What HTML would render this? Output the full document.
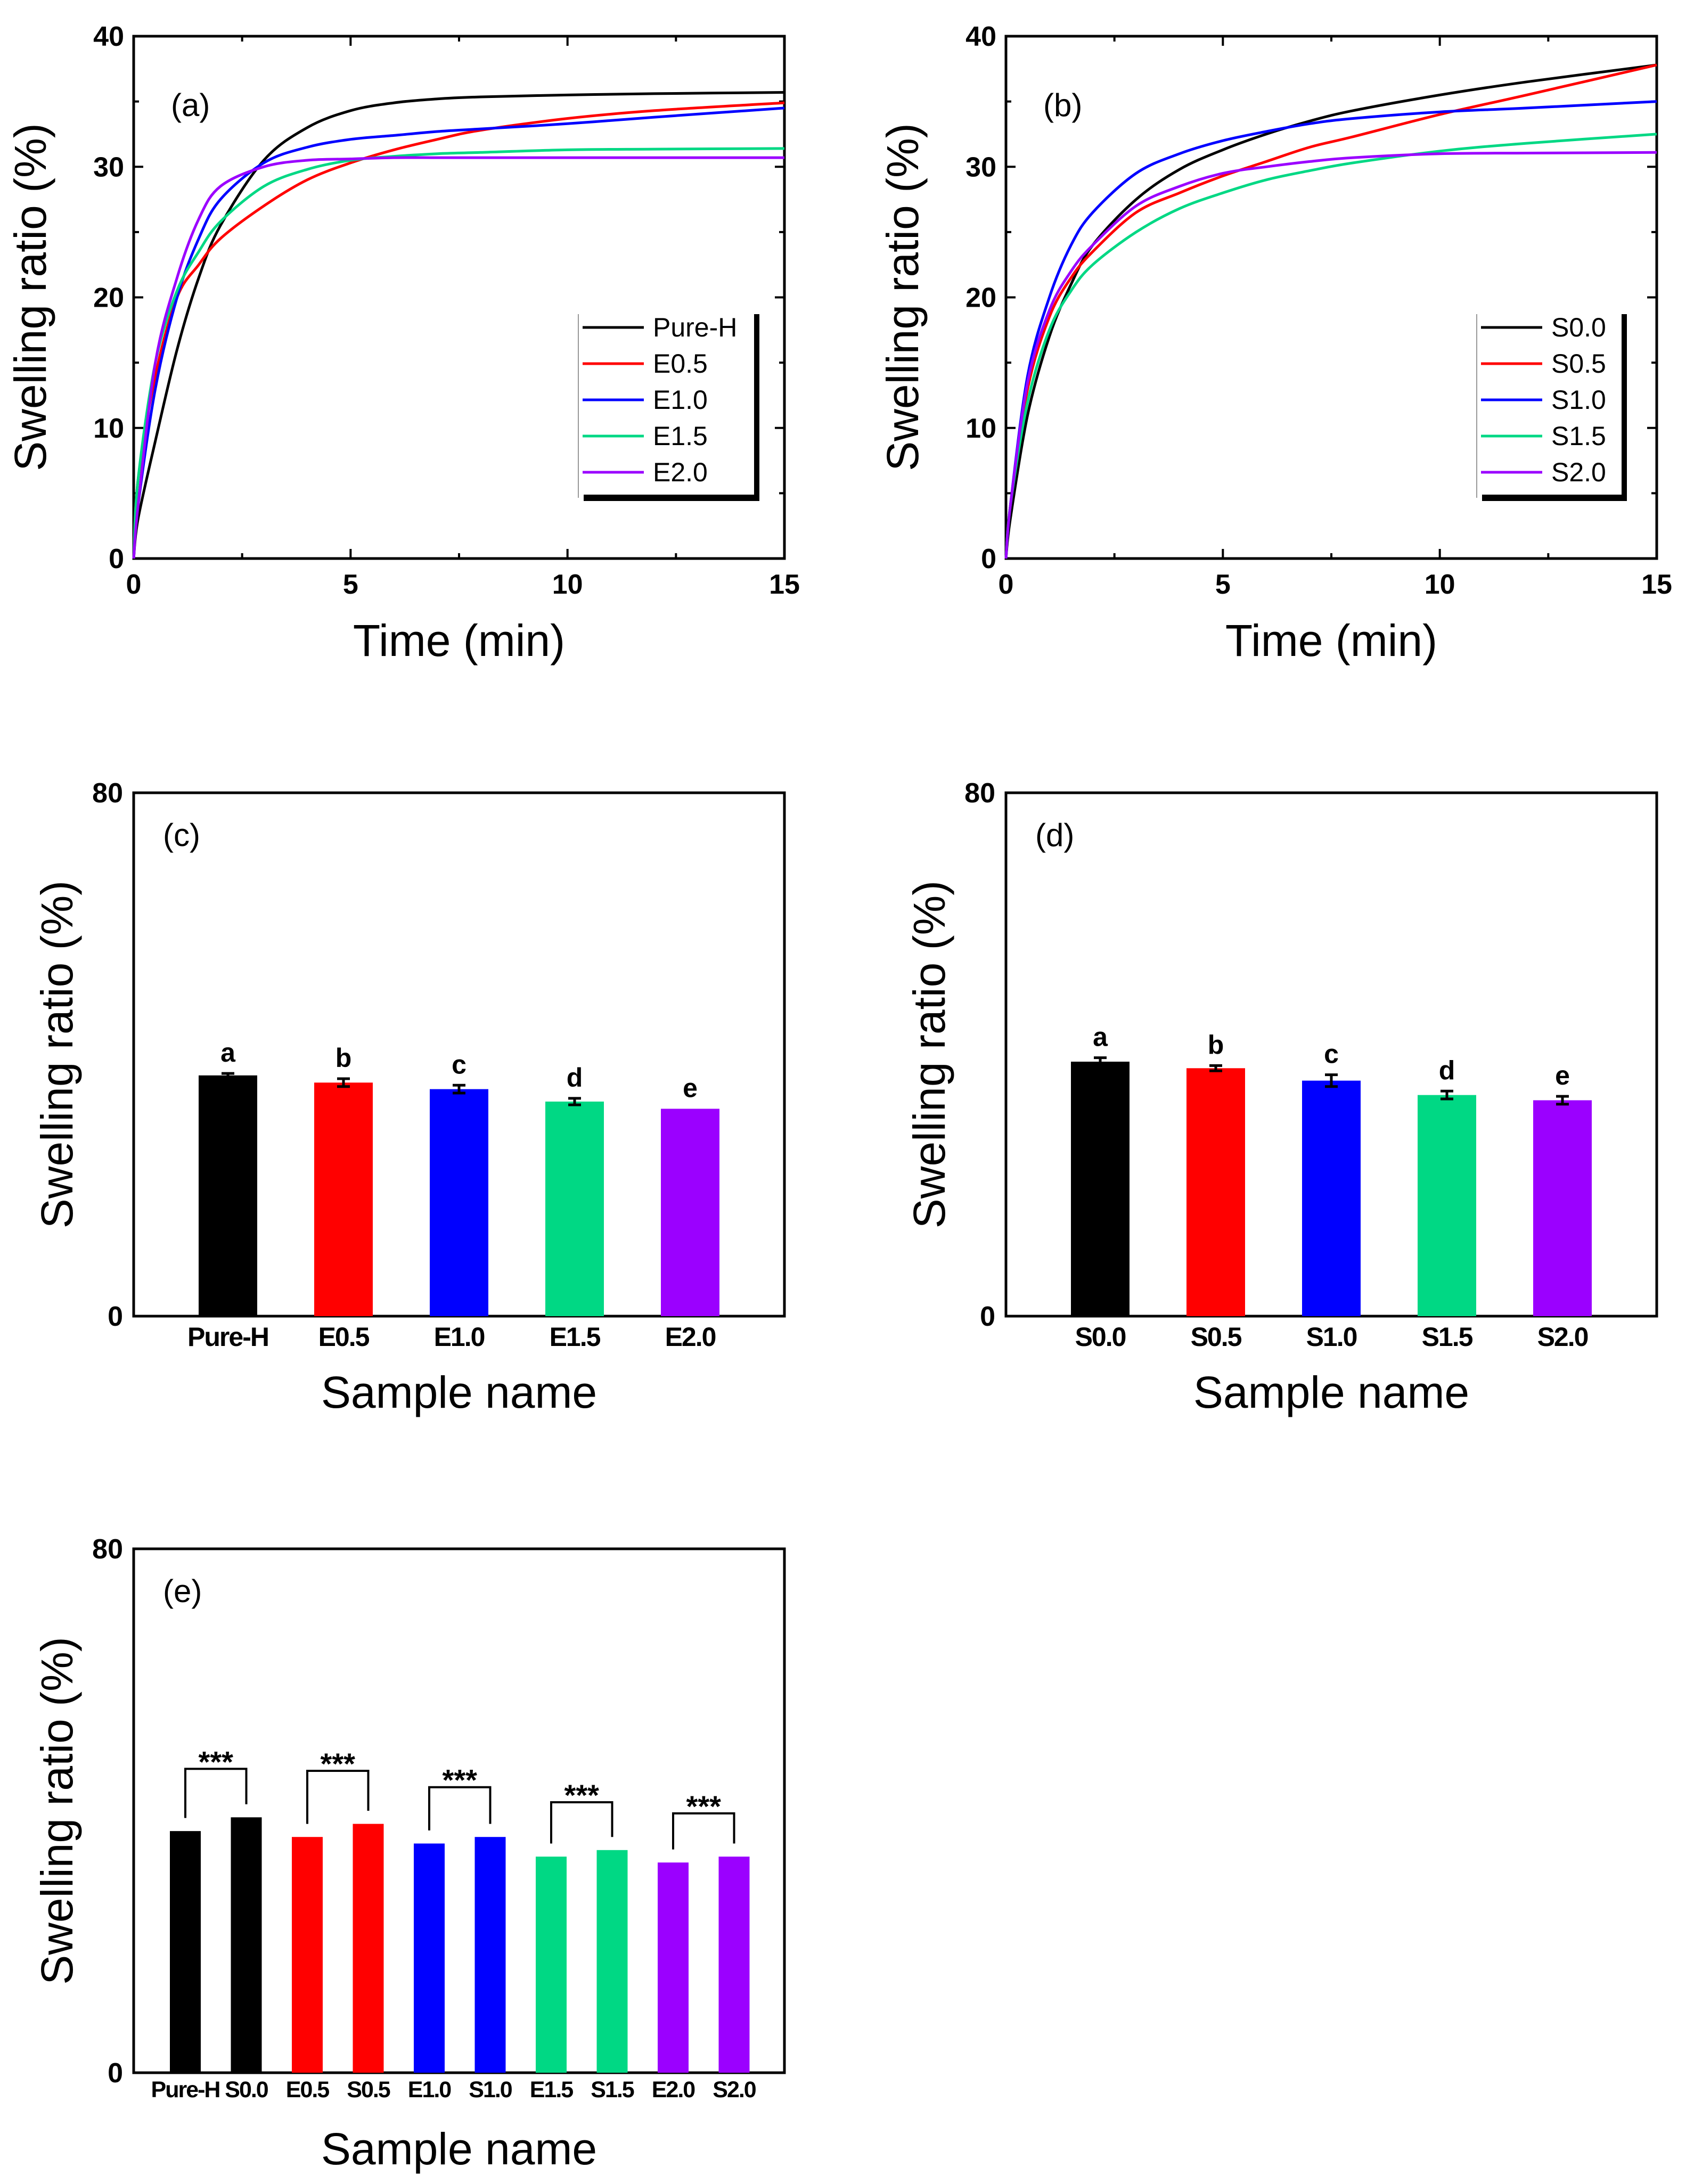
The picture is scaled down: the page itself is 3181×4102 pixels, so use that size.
<!DOCTYPE html>
<html><head><meta charset="utf-8"><style>
html,body{margin:0;padding:0;background:#fff}
svg{display:block}
text{font-family:"Liberation Sans",Arial,sans-serif}
</style></head><body>
<svg id="fig" xmlns="http://www.w3.org/2000/svg" width="3181" height="4102" viewBox="0 0 3181 4102"></svg>
<script>
// ---------- data ----------
const timeTicks = [0, 5, 10, 15];
const lineYTicks = [0, 10, 20, 30, 40];
const barYTicks = [0, 80];
const namesA = ["Pure-H", "E0.5", "E1.0", "E1.5", "E2.0"];
const namesB = ["S0.0", "S0.5", "S1.0", "S1.5", "S2.0"];
const colors = ["#000000", "#ff0000", "#0000ff", "#00d884", "#9b00ff"];
const tA = [0, 0.1, 0.5, 1, 1.5, 2, 3, 4, 5, 6, 7, 8, 10, 12, 15];
const seriesA = [
  [0, 3, 9, 16, 21.5, 25.5, 30.5, 33, 34.3, 34.9, 35.2, 35.35, 35.5, 35.6, 35.7],
  [0, 6, 14, 20, 22.5, 24.5, 27, 29, 30.3, 31.3, 32.1, 32.8, 33.7, 34.3, 34.9],
  [0, 4, 13, 20, 24.5, 27.5, 30.3, 31.5, 32.1, 32.4, 32.7, 32.9, 33.3, 33.8, 34.5],
  [0, 6, 15, 20.5, 23.5, 25.8, 28.5, 29.8, 30.5, 30.8, 31, 31.1, 31.3, 31.35, 31.4],
  [0, 4, 15, 21.5, 26, 28.5, 30, 30.5, 30.6, 30.7, 30.7, 30.7, 30.7, 30.7, 30.7]
];
const seriesB = [
  [0, 3, 11, 17, 21, 24, 27.5, 29.8, 31.3, 32.5, 33.5, 34.3, 35.5, 36.5, 37.8],
  [0, 4, 13, 18.5, 21.5, 23.5, 26.5, 28, 29.3, 30.4, 31.5, 32.3, 34, 35.5, 37.8],
  [0, 4, 14, 20, 24, 26.5, 29.5, 31, 32, 32.7, 33.3, 33.7, 34.2, 34.5, 35],
  [0, 4, 12, 17.5, 20.5, 22.5, 25, 26.8, 28, 29, 29.7, 30.3, 31.2, 31.8, 32.5],
  [0, 4, 13.5, 19, 22, 24, 27, 28.5, 29.5, 30, 30.4, 30.7, 31, 31.05, 31.1]
];
const barsC = [36.8, 35.7, 34.7, 32.8, 31.7];
const errC = [0.3, 0.6, 0.6, 0.5, 0];
const lettersC = ["a", "b", "c", "d", "e"];
const barsD = [38.9, 37.9, 36.0, 33.8, 33.0];
const errD = [0.6, 0.4, 0.9, 0.6, 0.6];
const namesE = ["Pure-H", "S0.0", "E0.5", "S0.5", "E1.0", "S1.0", "E1.5", "S1.5", "E2.0", "S2.0"];
const barsE = [36.9, 39.0, 36.0, 38.0, 35.0, 36.0, 33.0, 34.0, 32.1, 33.0];
const bracketE = [46.4, 46.1, 43.6, 41.3, 39.6];

// ---------- helpers ----------
const svg = document.getElementById('fig');
const NS = 'http://www.w3.org/2000/svg';
function mk(tag, attrs, parent, txt) {
  const e = document.createElementNS(NS, tag);
  for (const k in attrs) e.setAttribute(k, attrs[k]);
  if (txt !== undefined) e.textContent = txt;
  (parent || svg).appendChild(e);
  return e;
}
function lin(d0, d1, r0, r1) { return v => r0 + (v - d0) * (r1 - r0) / (d1 - d0); }
function smooth(P) {
  let d = `M${P[0][0].toFixed(1)},${P[0][1].toFixed(1)}`;
  for (let i = 0; i < P.length - 1; i++) {
    const p0 = P[Math.max(0, i - 1)], p1 = P[i], p2 = P[i + 1], p3 = P[Math.min(P.length - 1, i + 2)];
    const c1x = p1[0] + (p2[0] - p0[0]) / 6, c1y = p1[1] + (p2[1] - p0[1]) / 6;
    const c2x = p2[0] - (p3[0] - p1[0]) / 6, c2y = p2[1] - (p3[1] - p1[1]) / 6;
    d += `C${c1x.toFixed(1)},${c1y.toFixed(1)} ${c2x.toFixed(1)},${c2y.toFixed(1)} ${p2[0].toFixed(1)},${p2[1].toFixed(1)}`;
  }
  return d;
}

function frame(g, L, T, R, B) {
  const r = mk('rect', {x: L, y: T, width: R - L, height: B - T, fill: 'none', stroke: '#000', 'stroke-width': 5}, g);
  
  
}
function yTitle(g, x, y, s) {
  const t = mk('text', {x: x, y: y, 'font-size': 84, 'text-anchor': 'middle', transform: `rotate(-90 ${x} ${y})`}, g, s);
  
  
}
function xTitle(g, x, y, s) {
  const t = mk('text', {x: x, y: y, 'font-size': 84, 'text-anchor': 'middle'}, g, s);
  
  
}
function panelLabel(g, x, y, s) {
  const t = mk('text', {x: x, y: y, 'font-size': 60}, g, s);
  
  
}

// ---------- line panels ----------
function linePanel(L, names, series, lbl) {
  const T = 68, R = L + 1222, B = 1049;
  const g = mk('g', {});
  
  
  const x = lin(0, 15, L, R), y = lin(0, 40, B, T);
  frame(g, L, T, R, B);
  for (let v = 0; v <= 15; v += 2.5) {
    const len = (v % 5 === 0) ? 18 : 10;
    mk('line', {x1: x(v), x2: x(v), y1: B, y2: B - len, stroke: '#000', 'stroke-width': 4}, g);
    mk('line', {x1: x(v), x2: x(v), y1: T, y2: T + len, stroke: '#000', 'stroke-width': 4}, g);
  }
  for (let v = 0; v <= 40; v += 5) {
    const len = (v % 10 === 0) ? 18 : 10;
    mk('line', {x1: L, x2: L + len, y1: y(v), y2: y(v), stroke: '#000', 'stroke-width': 4}, g);
    mk('line', {x1: R, x2: R - len, y1: y(v), y2: y(v), stroke: '#000', 'stroke-width': 4}, g);
  }
  timeTicks.forEach(v => {
    const t = mk('text', {x: x(v), y: B + 66, 'font-size': 52, 'font-weight': 'bold', 'text-anchor': 'middle'}, g, v);
    
    
  });
  lineYTicks.forEach(v => {
    const t = mk('text', {x: L - 18, y: y(v) + 18, 'font-size': 52, 'font-weight': 'bold', 'text-anchor': 'end'}, g, v);
    
    
  });
  series.forEach((s, i) => {
    const P = tA.map((t, j) => [x(t), y(s[j])]);
    const p = mk('path', {d: smooth(P), fill: 'none', stroke: colors[i], 'stroke-width': 5, 'stroke-linejoin': 'round'}, g);
    
    
  });
  // legend
  const lx = L + (lbl === 'a' ? 835 : 884), ly = 590, lw = lbl === 'a' ? 335 : 277, lh = 345;
  const lg = mk('g', {}, g);
  
  
  mk('line', {x1: lx, x2: lx, y1: ly, y2: ly + lh, stroke: '#999', 'stroke-width': 2}, lg);
  mk('line', {x1: lx + 10, x2: lx + lw + 5, y1: ly + lh, y2: ly + lh, stroke: '#000', 'stroke-width': 12}, lg);
  mk('line', {x1: lx + lw, x2: lx + lw, y1: ly, y2: ly + lh + 6, stroke: '#000', 'stroke-width': 10}, lg);
  names.forEach((n, i) => {
    const yy = ly + 25 + i * 68;
    const e = mk('g', {}, lg);
    
    
    mk('line', {x1: lx + 8, x2: lx + 123, y1: yy, y2: yy, stroke: colors[i], 'stroke-width': 5}, e);
    mk('text', {x: lx + 140, y: yy + 17, 'font-size': 50}, e, n);
  });
  panelLabel(g, L + 70, 218, '(' + lbl + ')');
  yTitle(g, L - 165, 558, 'Swelling ratio (%)');
  xTitle(g, (L + R) / 2, 1232, 'Time (min)');
}
linePanel(251, namesA, seriesA, 'a');
linePanel(1889, namesB, seriesB, 'b');

// ---------- bar panels ----------
function barPanel(L, T, names, vals, errs, lbl) {
  const R = L + 1222, B = T + 983;
  const g = mk('g', {});
  
  
  const y = lin(0, 80, B, T);
  frame(g, L, T, R, B);
  barYTicks.forEach(v => {
    const t = mk('text', {x: L - 20, y: y(v) + 18, 'font-size': 52, 'font-weight': 'bold', 'text-anchor': 'end'}, g, v);
    
    
  });
  const step = 217, x0 = L + 177, bw = 110;
  vals.forEach((v, i) => {
    const cx = x0 + i * step;
    const r = mk('rect', {x: cx - bw / 2, y: y(v), width: bw, height: B - y(v), fill: colors[i]}, g);
    
    
    if (errs[i] > 0) {
      const e = mk('path', {d: `M${cx},${y(v + errs[i])}V${y(v - errs[i])}M${cx - 12},${y(v + errs[i])}H${cx + 12}M${cx - 12},${y(v - errs[i])}H${cx + 12}`, stroke: '#000', 'stroke-width': 5, fill: 'none'}, g);
      
      
    }
    const ty = y(v + errs[i]) - 22;
    const l = mk('text', {x: cx, y: ty, 'font-size': 50, 'font-weight': 'bold', 'text-anchor': 'middle'}, g, lettersC[i]);
    
    
    const t = mk('text', {x: cx, y: B + 56, 'font-size': 50, 'font-weight': 'bold', 'text-anchor': 'middle', 'letter-spacing': -2}, g, names[i]);
    
    
  });
  panelLabel(g, L + 55, T + 100, '(' + lbl + ')');
  yTitle(g, L - 115, (T + B) / 2, 'Swelling ratio (%)');
  xTitle(g, (L + R) / 2, B + 172, 'Sample name');
}
barPanel(251, 1489, namesA, barsC, errC, 'c');
barPanel(1889, 1489, namesB, barsD, errD, 'd');

// ---------- panel e ----------
(function () {
  const L = 251, T = 2909, R = 1473, B = 3893;
  const g = mk('g', {});
  
  
  const y = lin(0, 80, B, T);
  frame(g, L, T, R, B);
  barYTicks.forEach(v => {
    const t = mk('text', {x: L - 20, y: y(v) + 18, 'font-size': 52, 'font-weight': 'bold', 'text-anchor': 'end'}, g, v);
    
    
  });
  const step = 114.5, x0 = L + 97, bw = 58;
  barsE.forEach((v, i) => {
    const cx = x0 + i * step;
    const r = mk('rect', {x: cx - bw / 2, y: y(v), width: bw, height: B - y(v), fill: colors[Math.floor(i / 2)]}, g);
    
    
    const t = mk('text', {x: cx, y: B + 46, 'font-size': 43, 'font-weight': 'bold', 'text-anchor': 'middle', 'letter-spacing': -2}, g, namesE[i]);
    
    
  });
  bracketE.forEach((b, k) => {
    const xa = x0 + 2 * k * step, xb = xa + step;
    const ya = y(barsE[2 * k] + 2), yb = y(barsE[2 * k + 1] + 2);
    const p = mk('path', {d: `M${xa},${ya}V${y(b)}H${xb}V${yb}`, fill: 'none', stroke: '#000', 'stroke-width': 4}, g);
    
    
    const s = mk('text', {x: (xa + xb) / 2, y: y(b) + 6, 'font-size': 56, 'font-weight': 'bold', 'text-anchor': 'middle'}, g, '***');
    
    
  });
  panelLabel(g, L + 55, T + 100, '(e)');
  yTitle(g, L - 115, (T + B) / 2, 'Swelling ratio (%)');
  xTitle(g, (L + R) / 2, B + 172, 'Sample name');
})();
</script>
</body></html>
